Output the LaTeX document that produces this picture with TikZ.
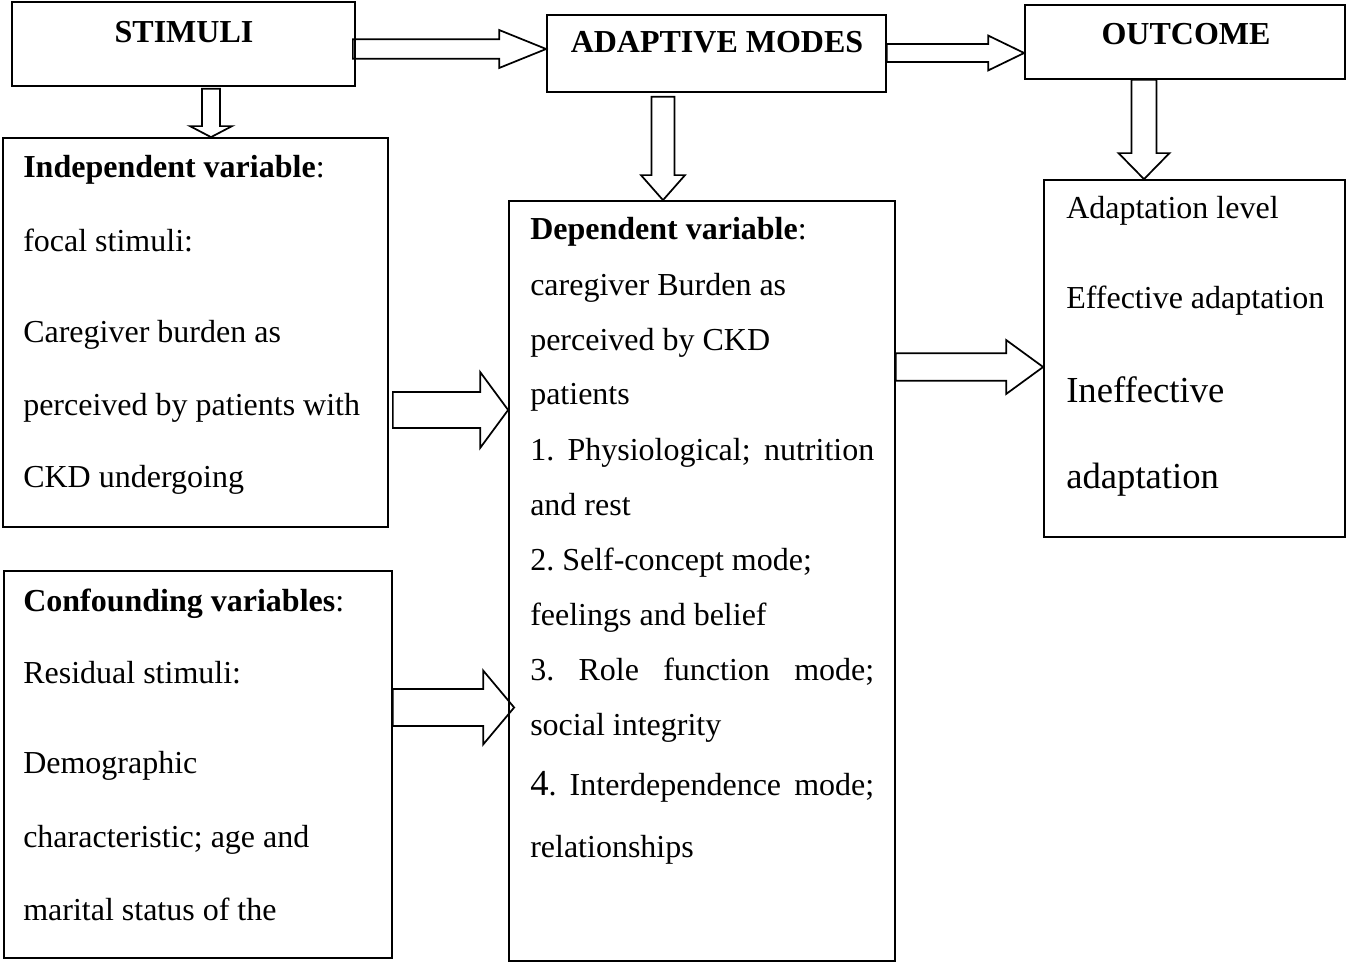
\documentclass[tikz,border=0pt]{standalone}
\usepackage{fontspec}
\setmainfont{Liberation Serif}
\usetikzlibrary{calc,positioning}
\frenchspacing

% hollow block arrow: tail, tip, shaft half width, head half width, head length
\newcommand{\blockarrow}[5]{%
  \coordinate (hb) at ($(#2)!#5!(#1)$);
  \draw[barrow] ($(#1)!#3!90:(#2)$) -- ($(hb)!#3!90:(#2)$) -- ($(hb)!#4!90:(#2)$) -- (#2)
     -- ($(hb)!#4!-90:(#2)$) -- ($(hb)!#3!-90:(#2)$) -- ($(#1)!#3!-90:(#2)$) -- cycle;
}

\begin{document}
\begin{tikzpicture}[
    x = 0.75pt, y = -0.75pt,
    box/.style = {draw, line width = 1.3pt, inner sep = 0pt},
    barrow/.style = {line width = 1.3pt, line join = miter},
    head/.style = {font = \fontsize{24}{28}\selectfont\bfseries, inner sep = 0pt, anchor = base},
    txt/.style = {font = \fontsize{24}{28}\selectfont, inner sep = 0pt, anchor = base west},
    big/.style = {font = \fontsize{27.5}{30}\selectfont, inner sep = 0pt, anchor = base west},
]
\useasboundingbox (0,0) rectangle (1346,963);

% top row
\node[box, minimum width = 257.25pt, minimum height = 63pt] (stim) at (183.5,44) {};
\node[box, minimum width = 254.25pt, minimum height = 57.75pt] (adapt) at (716.5,53.5) {};
\node[box, minimum width = 240pt, minimum height = 55.5pt] (outc) at (1185,42) {};
\node[head] (stimt) at (184,43) {STIMULI};
\node[head] (adaptt) at (717,53) {ADAPTIVE MODES};
\node[head] (outct) at (1186,45) {OUTCOME};

% lower boxes
\node[box, minimum width = 288.75pt, minimum height = 291.75pt] (indep) at (195.5,332.5) {};
\node[box, minimum width = 291pt, minimum height = 290.25pt] (conf) at (198,764.5) {};
\node[box, minimum width = 289.5pt, minimum height = 570pt] (dep) at (702,581) {};
\node[box, minimum width = 225.75pt, minimum height = 267.75pt] (level) at (1194.5,358.5) {};

\foreach \yy/\t [count=\i] in {178/{\textbf{Independent variable}:}, 252/{focal stimuli:},
    342/{Caregiver burden as}, 415/{perceived by patients with}, 487/{CKD undergoing}}
  \node[txt] (ind\i) at (23,\yy) {\t};

\foreach \yy/\t [count=\i] in {611/{\textbf{Confounding variables}:}, 683/{Residual stimuli:},
    773/{Demographic}, 847/{characteristic; age and}, 920/{marital status of the}}
  \node[txt] (con\i) at (23,\yy) {\t};

\foreach \yy/\t [count=\i] in {239/{\textbf{Dependent variable}:}, 295/{caregiver Burden as},
    350/{perceived by CKD}, 404/{patients},
    460/{\makebox[258pt][s]{1. Physiological; nutrition}}, 515/{and rest},
    570/{2. Self-concept mode;}, 625/{feelings and belief},
    680/{\makebox[258pt][s]{3. Role function mode;}}, 735/{social integrity},
    795/{\makebox[258pt][s]{{\fontsize{27.5}{30}\selectfont 4}. Interdependence mode;}},
    857/{relationships}}
  \node[txt] (dep\i) at (530,\yy) {\t};

\node[txt] (lev1) at (1066,219) {Adaptation level};
\node[txt] (lev2) at (1066,308) {Effective adaptation};
\node[big] (lev3) at (1066,402) {Ineffective};
\node[big] (lev4) at (1066,488) {adaptation};

% connectors
\coordinate (a1) at ($(stim.east)+(-3,5)$);
\blockarrow{a1}{adapt.west |- a1}{7.3pt}{14.25pt}{35.25pt}
\coordinate (a2) at ($(adapt.east)+(0,-0.5)$);
\blockarrow{a2}{outc.west |- a2}{6.75pt}{13.1pt}{27pt}
\coordinate (a3) at ($(stim.south)+(27.5,2)$);
\blockarrow{a3}{indep.north -| a3}{6.75pt}{15.75pt}{8.25pt}
\coordinate (a4) at ($(adapt.south)+(-53.5,4)$);
\blockarrow{a4}{dep.north -| a4}{8.6pt}{16.5pt}{18.75pt}
\coordinate (a5) at ($(outc.south)+(-41,0)$);
\blockarrow{a5}{level.north -| a5}{9.4pt}{19.1pt}{19.5pt}
\coordinate (a6) at ($(indep.east)+(4,77.5)$);
\blockarrow{a6}{dep.west |- a6}{13.5pt}{28.5pt}{21pt}
\coordinate (a7) at ($(conf.east)+(0,-57)$);
\coordinate (a7t) at ($(dep.west |- a7)+(6,0)$);
\blockarrow{a7}{a7t}{13.9pt}{27.75pt}{23.25pt}
\coordinate (a8) at ($(dep.east)+(0,-214)$);
\blockarrow{a8}{level.west |- a8}{10.3pt}{20.25pt}{27.75pt}

\end{tikzpicture}
\end{document}
